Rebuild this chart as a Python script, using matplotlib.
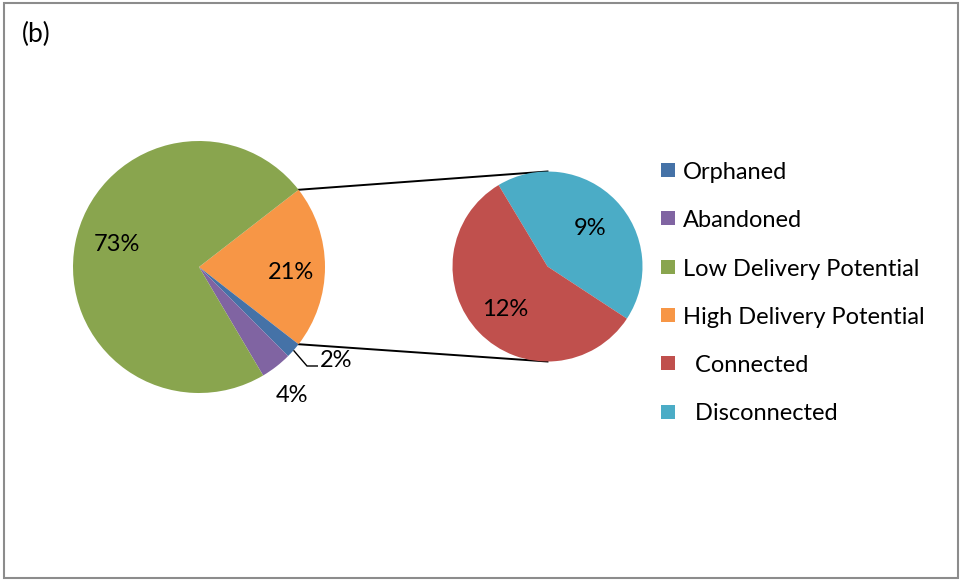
import numpy as np
import matplotlib
matplotlib.use("Agg")
import matplotlib.pyplot as plt
from matplotlib.patches import Rectangle

plt.rcParams['font.family'] = ['Lato', 'DejaVu Sans']

# Main pie: wedges listed clockwise from the split-out slice
main_labels = ["High Delivery Potential", "Orphaned", "Abandoned", "Low Delivery Potential"]
main_values = [21, 2, 4, 73]
main_colors = ["#F79646", "#4572A7", "#8064A2", "#89A54E"]

# Secondary pie: breakdown of High Delivery Potential
sub_labels = ["Disconnected", "Connected"]
sub_values = [9, 12]
sub_colors = ["#4BACC6", "#C0504D"]

legend_labels = ["Orphaned", "Abandoned", "Low Delivery Potential",
                 "High Delivery Potential", "  Connected", "  Disconnected"]
legend_colors = ["#4572A7", "#8064A2", "#89A54E", "#F79646", "#C0504D", "#4BACC6"]

W, H = 962, 581
fig = plt.figure(figsize=(W / 100, H / 100), dpi=100)
ax = fig.add_axes([0, 0, 1, 1])


def py(y):
    # convert a top-down pixel row into the axes' bottom-up coordinate
    return H - y


main_c = (199, py(267))
main_r = 126
sub_c = (547.5, py(266.5))
sub_r = 95
dy_txt = -2.5  # nudge so the visual middle of the glyphs sits on the anchor

start_main = main_values[0] / sum(main_values) * 360 / 2
wm, _ = ax.pie(main_values, colors=main_colors, startangle=start_main, counterclock=False,
               center=main_c, radius=main_r, wedgeprops=dict(linewidth=0))
ws, _ = ax.pie(sub_values, colors=sub_colors, startangle=121, counterclock=False,
               center=sub_c, radius=sub_r, wedgeprops=dict(linewidth=0))


def polar(c, r, ang):
    a = np.deg2rad(ang)
    return c[0] + r * np.cos(a), c[1] + r * np.sin(a)


fs = 17
total_main = sum(main_values)
# label placement: (distance as fraction of radius, angle offset from wedge middle)
main_place = [(0.73, -2), None, (1.245, -1.5), (0.68, -6.5)]
for w, v, pl in zip(wm, main_values, main_place):
    if pl is None:
        continue
    d, off = pl
    mid = (w.theta1 + w.theta2) / 2 + off
    x, y = polar(main_c, main_r * d, mid)
    ax.text(x, y + dy_txt, f"{v / total_main * 100:.0f}%", ha='center', va='center', fontsize=fs)

# the small Orphaned slice gets a leader line
w_orph = wm[1]
mid = (w_orph.theta1 + w_orph.theta2) / 2
x0, y0 = polar(main_c, main_r * 1.0, mid)
ax.plot([x0, 307, 318], [y0, py(366), py(366)], color='black', lw=1.0,
        solid_capstyle='butt', solid_joinstyle='miter')
ax.text(320, py(358) + dy_txt, f"{main_values[1] / total_main * 100:.0f}%",
        ha='left', va='center', fontsize=fs)

for w, v in zip(ws, sub_values):
    mid = (w.theta1 + w.theta2) / 2
    x, y = polar(sub_c, sub_r * 0.62, mid)
    ax.text(x, y + dy_txt, f"{v}%", ha='center', va='center', fontsize=fs)

# connector lines from the split slice to the secondary pie
w_high = wm[0]
for ang, ty in [(w_high.theta2, sub_c[1] + sub_r), (w_high.theta1, sub_c[1] - sub_r)]:
    x0, y0 = polar(main_c, main_r, ang)
    ax.plot([x0, sub_c[0]], [y0, ty], color='black', lw=1.4, zorder=0.5)

# legend
for i, (lab, col) in enumerate(zip(legend_labels, legend_colors)):
    yc = py(170 + i * 48.3)
    ax.add_patch(Rectangle((661, yc - 7), 14, 14, facecolor=col, edgecolor='none'))
    ax.text(683, yc + dy_txt, lab, ha='left', va='center', fontsize=fs)

ax.text(22, py(34), "(b)", ha='left', va='center', fontsize=19)

# chart frame
ax.add_patch(Rectangle((4, py(578)), 954, 575, facecolor='none', edgecolor='#8C8C8C', lw=1.5))

ax.set_xlim(0, W)
ax.set_ylim(0, H)
ax.set_aspect('auto')
ax.axis('off')

fig.savefig("out.png", dpi=100, facecolor='white')
